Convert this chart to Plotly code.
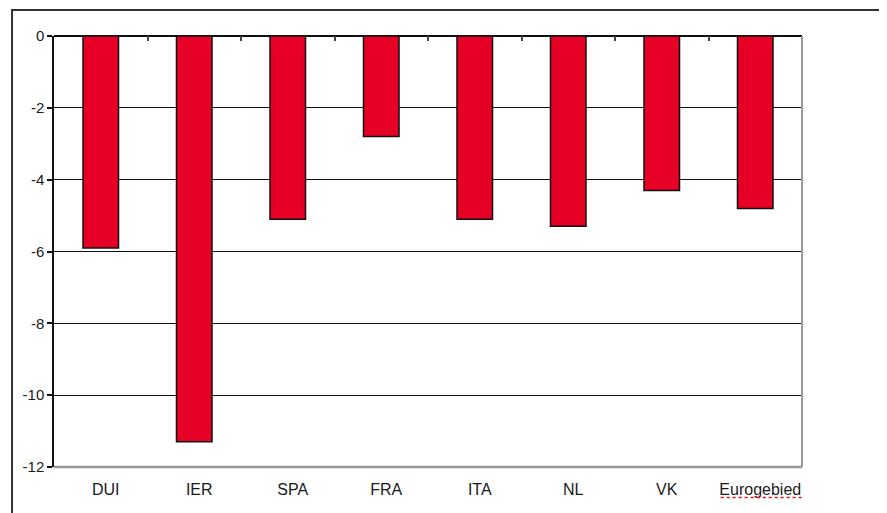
import plotly.graph_objects as go

categories = ["DUI", "IER", "SPA", "FRA", "ITA", "NL", "VK", "Eurogebied"]
values = [-5.9, -11.3, -5.1, -2.8, -5.1, -5.3, -4.3, -4.8]
y_ticks = [0, -2, -4, -6, -8, -10, -12]

fig = go.Figure()
fig.add_trace(go.Bar(
    x=categories, y=values,
    marker=dict(color="#E60026", line=dict(color="#111111", width=1.5)),
    width=0.38,
))
# invisible trace for top tick axis
fig.add_trace(go.Scatter(x=[0, 7], y=[0, 0], xaxis="x2", mode="markers",
                         marker=dict(opacity=0), hoverinfo="skip", showlegend=False))

fig.update_layout(
    width=887, height=513,
    margin=dict(l=46, r=93, t=28, b=54),
    paper_bgcolor="white", plot_bgcolor="white",
    showlegend=False,
    font=dict(family="Liberation Sans, Arial, sans-serif", size=15, color="#1a1a1a"),
    xaxis=dict(
        type="category", showgrid=False, zeroline=False, showline=False,
        ticks="", tickfont=dict(size=16), range=[-0.5, 7.5],
        ticklabelstandoff=11, ticklabelshift=5,
    ),
    xaxis2=dict(
        overlaying="x", side="top", range=[-0.5, 7.5],
        tickvals=[0.5, 1.5, 2.5, 3.5, 4.5, 5.5, 6.5],
        ticks="inside", ticklen=5, tickwidth=2, tickcolor="#444444",
        showticklabels=False, showgrid=False, zeroline=False, showline=False,
    ),
    yaxis=dict(
        range=[-12, 0], tickvals=y_ticks, ticktext=[str(v) for v in y_ticks],
        showgrid=True, gridcolor="#111111", gridwidth=1,
        zeroline=True, zerolinecolor="#111111", zerolinewidth=1.5,
        showline=True, linecolor="#111111", linewidth=1.5,
        ticks="outside", ticklen=5, tickcolor="#111111", tickwidth=1.5,
        tickfont=dict(size=15),
    ),
    shapes=[
        # right border of plot area (grey)
        dict(type="line", xref="paper", yref="paper", x0=1, x1=1, y0=0, y1=1,
             line=dict(color="#999999", width=2)),
        # bottom border of plot area (grey)
        dict(type="line", xref="paper", yref="paper", x0=0, x1=1, y0=0, y1=0,
             line=dict(color="#999999", width=2.5)),
        # outer chart frame
        dict(type="rect", xref="paper", yref="paper",
             x0=-0.0561, x1=1.1155, y0=-0.2, y1=1.0603,
             line=dict(color="#333333", width=2)),
        # spell-check underline under last label
        dict(type="line", xref="x", yref="paper", x0=6.63, x1=7.56, y0=-0.071, y1=-0.071,
             line=dict(color="#E0101A", width=1.5, dash="dot")),
    ],
)

fig.write_html("out.html")
